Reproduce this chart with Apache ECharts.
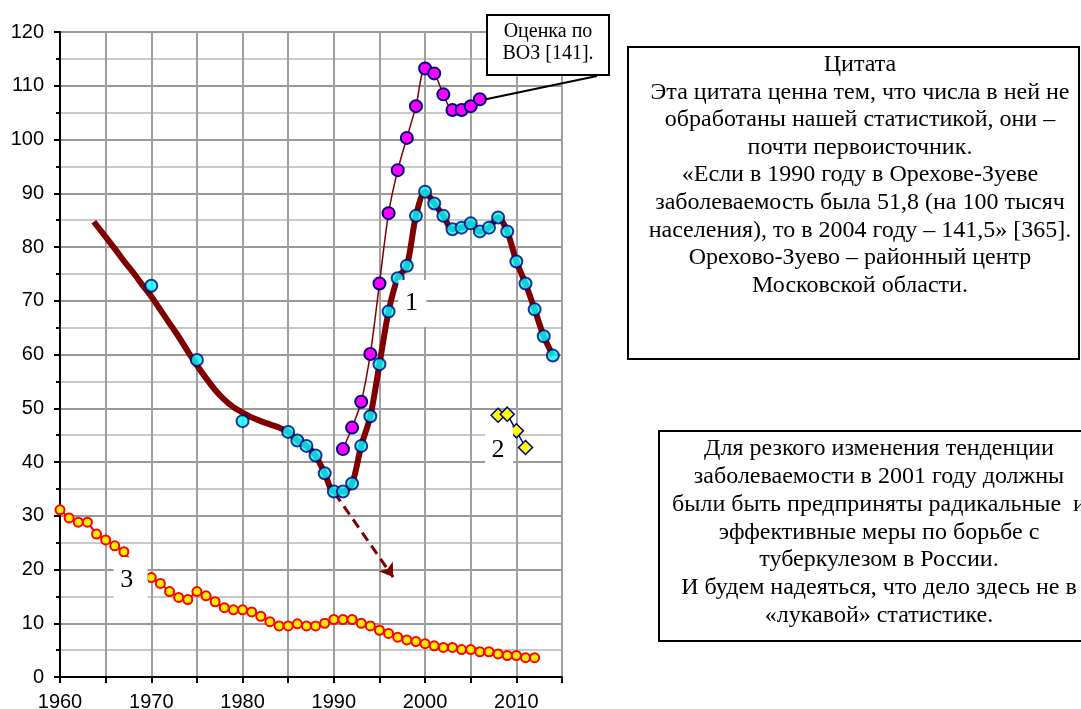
<!DOCTYPE html>
<html lang="ru">
<head>
    <meta charset="UTF-8">
    <title>Заболеваемость туберкулезом</title>
    <script src="https://cdn.jsdelivr.net/npm/echarts@6/dist/echarts.min.js"></script>
    <style>
        body {margin: 0; background: #fff;}
    </style>
</head>
<body>
<div class="main" style="width: 1081px;height:709px;"></div>
</body>
<script>
    // кривая 1: сглаженный тренд до 1985 года
    const trendYears = [1963.7, 1965, 1966, 1967, 1968, 1969, 1970, 1971, 1972, 1973, 1974, 1975, 1976, 1977, 1978, 1979, 1980, 1981, 1982, 1983, 1984];
    const trendValues = [84.7, 81.9, 79.7, 77.4, 75.3, 73.0, 70.8, 68.3, 65.8, 63.3, 60.6, 58.0, 55.6, 53.4, 51.6, 50.2, 49.2, 48.3, 47.6, 47.0, 46.4];

    // кривая 1: точки
    const years1 = [1970, 1975, 1980, 1985, 1986, 1987, 1988, 1989, 1990, 1991, 1992, 1993, 1994, 1995, 1996, 1997, 1998, 1999,
        2000, 2001, 2002, 2003, 2004, 2005, 2006, 2007, 2008, 2009, 2010, 2011, 2012, 2013, 2014];
    const values1 = [72.8, 59.0, 47.6, 45.6, 44.0, 43.0, 41.2, 37.9, 34.5, 34.5, 36.0, 43.0, 48.5, 58.2, 68.0, 74.2, 76.5, 85.8,
        90.3, 88.1, 85.8, 83.3, 83.6, 84.4, 82.9, 83.6, 85.5, 82.9, 77.3, 73.2, 68.4, 63.4, 59.8];

    // оценка ВОЗ
    const whoYears = [1991, 1992, 1993, 1994, 1995, 1996, 1997, 1998, 1999, 2000, 2001, 2002, 2003, 2004, 2005, 2006];
    const whoValues = [42.4, 46.4, 51.2, 60.1, 73.2, 86.3, 94.3, 100.3, 106.2, 113.2, 112.3, 108.4, 105.5, 105.5, 106.2, 107.5];

    // кривая 2
    const years2 = [2008, 2009, 2010, 2011];
    const values2 = [48.7, 48.9, 45.8, 42.7];

    // кривая 3
    const years3 = [1960, 1961, 1962, 1963, 1964, 1965, 1966, 1967, 1968, 1969,
        1970, 1971, 1972, 1973, 1974, 1975, 1976, 1977, 1978, 1979,
        1980, 1981, 1982, 1983, 1984, 1985, 1986, 1987, 1988, 1989,
        1990, 1991, 1992, 1993, 1994, 1995, 1996, 1997, 1998, 1999,
        2000, 2001, 2002, 2003, 2004, 2005, 2006, 2007, 2008, 2009,
        2010, 2011, 2012];
    const values3 = [31.1, 29.6, 28.8, 28.8, 26.6, 25.5, 24.4, 23.3, 21.2, 19.8,
        18.5, 17.4, 15.9, 14.8, 14.4, 15.9, 15.1, 14.0, 12.9, 12.5,
        12.5, 12.1, 11.3, 10.3, 9.5, 9.5, 9.9, 9.5, 9.5, 10.0,
        10.7, 10.7, 10.7, 10.0, 9.5, 8.7, 8.1, 7.4, 6.9, 6.6,
        6.2, 5.8, 5.5, 5.5, 5.1, 5.1, 4.7, 4.7, 4.3, 4.0,
        4.0, 3.6, 3.6];

    // пунктирная стрелка (прогноз)
    const arrowFrom = [1990.1, 34.2];
    const arrowTo = [1996.5, 18.6];

    // номера кривых
    const curveLabels = [
        {text: '1', year: 1998.5, value: 69.6},
        {text: '2', year: 2008.0, value: 42.2},
        {text: '3', year: 1967.3, value: 18.0}
    ];

    const pairs = (xs, ys) => xs.map((x, i) => [x, ys[i]]);

    // толстая линия: тренд + точки с 1985 года
    const thickLine = pairs(trendYears, trendValues)
        .concat(pairs(years1, values1).filter(p => p[0] >= 1985));

    let myChart = echarts.init(document.querySelector('.main'));

    let option = {
        animation: false,
        backgroundColor: '#fff',
        grid: {left: 60, top: 32, right: 519, bottom: 32, containLabel: false, outerBoundsMode: 'none'},
        xAxis: {
            type: 'value',
            min: 1960,
            max: 2015,
            interval: 5,
            axisLine: {lineStyle: {color: '#000', width: 2}},
            axisTick: {show: true, length: 6, lineStyle: {color: '#000', width: 2}},
            axisLabel: {
                color: '#000',
                fontSize: 20,
                fontFamily: 'Liberation Sans',
                margin: 15,
                formatter: v => v % 10 === 0 ? String(v) : ''
            },
            splitLine: {show: true, lineStyle: {color: '#a0a0a0', width: 2}}
        },
        yAxis: {
            type: 'value',
            min: 0,
            max: 120,
            interval: 10,
            axisLine: {show: true, lineStyle: {color: '#000', width: 2}},
            axisTick: {show: true, length: 6, lineStyle: {color: '#000', width: 2}},
            minorTick: {show: true, splitNumber: 2, length: 4, lineStyle: {color: '#000', width: 2}},
            axisLabel: {color: '#000', fontSize: 20, fontFamily: 'Liberation Sans', margin: 16},
            splitLine: {show: true, lineStyle: {color: '#999', width: 2}},
            minorSplitLine: {show: true, lineStyle: {color: '#c8c8c8', width: 2}}
        },
        series: [
            {
                name: '3',
                type: 'line',
                data: pairs(years3, values3),
                symbol: 'circle',
                symbolSize: 9,
                lineStyle: {color: '#ff0000', width: 2},
                itemStyle: {color: '#ffee00', borderColor: '#ff0000', borderWidth: 2},
                z: 2
            },
            {
                name: 'trend',
                type: 'line',
                data: thickLine,
                smooth: 0.3,
                showSymbol: false,
                lineStyle: {color: '#800000', width: 6},
                z: 3,
                markLine: {
                    silent: true,
                    symbol: ['none', 'arrow'],
                    symbolSize: 13,
                    label: {show: false},
                    lineStyle: {color: '#800000', width: 3, type: [10, 6]},
                    data: [[{coord: arrowFrom}, {coord: arrowTo}]]
                }
            },
            {
                name: 'ВОЗ',
                type: 'line',
                data: pairs(whoYears, whoValues),
                smooth: 0.3,
                symbol: 'circle',
                symbolSize: 12,
                lineStyle: {color: '#800000', width: 1.5},
                itemStyle: {color: '#ff00ff', borderColor: '#000080', borderWidth: 2},
                z: 4
            },
            {
                name: '1',
                type: 'scatter',
                data: pairs(years1, values1),
                symbol: 'circle',
                symbolSize: 12,
                itemStyle: {color: '#00ffff', borderColor: '#000080', borderWidth: 2},
                z: 5
            },
            {
                name: '2',
                type: 'line',
                data: pairs(years2, values2),
                symbol: 'diamond',
                symbolSize: 14,
                lineStyle: {color: '#000080', width: 1.5},
                itemStyle: {color: '#ffff00', borderColor: '#000080', borderWidth: 1.5},
                z: 5
            }
        ]
    };
    myChart.setOption(option);

    // надписи поверх графика
    const serif = '"Liberation Serif", "Times New Roman", serif';
    let graphic = [];

    curveLabels.forEach(l => {
        let p = myChart.convertToPixel({gridIndex: 0}, [l.year, l.value]);
        let wide = l.text === '3' ? 6 : 0;
        graphic.push({
            type: 'rect', z: 100,
            shape: {x: p[0] - 13, y: p[1] - 23, width: 28 + wide, height: 47},
            style: {fill: '#fff'}
        });
        graphic.push({
            type: 'text', z: 101, x: p[0], y: p[1],
            style: {text: l.text, font: '26px ' + serif, fill: '#000', align: 'center', verticalAlign: 'middle'}
        });
    });

    // выноска "Оценка по ВОЗ"
    let lastWho = myChart.convertToPixel({gridIndex: 0}, [whoYears[whoYears.length - 1], whoValues[whoValues.length - 1]]);
    graphic.push({
        type: 'line', z: 100,
        shape: {x1: lastWho[0] + 6, y1: lastWho[1], x2: 597, y2: 76},
        style: {stroke: '#000', lineWidth: 2}
    });
    graphic.push({
        type: 'rect', z: 100,
        shape: {x: 487, y: 15, width: 122, height: 60},
        style: {fill: '#fff', stroke: '#000', lineWidth: 2}
    });
    graphic.push({
        type: 'text', z: 101, x: 548, y: 20,
        style: {
            text: 'Оценка по\nВОЗ [141].', font: '20px ' + serif, lineHeight: 22.6,
            fill: '#000', align: 'center', verticalAlign: 'top'
        }
    });

    // цитата
    graphic.push({
        type: 'rect', z: 100,
        shape: {x: 628, y: 47, width: 451, height: 312},
        style: {fill: '#fff', stroke: '#000', lineWidth: 2}
    });
    graphic.push({
        type: 'text', z: 101, x: 860, y: 51,
        style: {
            text: 'Цитата\nЭта цитата ценна тем, что числа в ней не\nобработаны нашей статистикой, они –\n' +
                'почти первоисточник.\n«Если в 1990 году в Орехове-Зуеве\nзаболеваемость была 51,8 (на 100 тысяч\n' +
                'населения), то в 2004 году – 141,5» [365].\nОрехово-Зуево – районный центр\nМосковской области.',
            font: '24px ' + serif, lineHeight: 27.6, fill: '#000', align: 'center', verticalAlign: 'top'
        }
    });

    // комментарий
    graphic.push({
        type: 'rect', z: 100,
        shape: {x: 659, y: 431, width: 440, height: 210},
        style: {fill: '#fff', stroke: '#000', lineWidth: 2}
    });
    graphic.push({
        type: 'text', z: 101, x: 879, y: 435,
        style: {
            text: 'Для резкого изменения тенденции\nзаболеваемости в 2001 году должны\n' +
                'были быть предприняты радикальные  и\nэффективные меры по борьбе с\n' +
                'туберкулезом в России.\nИ будем надеяться, что дело здесь не в\n«лукавой» статистике.',
            font: '24px ' + serif, lineHeight: 27.8, fill: '#000', align: 'center', verticalAlign: 'top'
        }
    });

    myChart.setOption({graphic});
</script>
</html>
